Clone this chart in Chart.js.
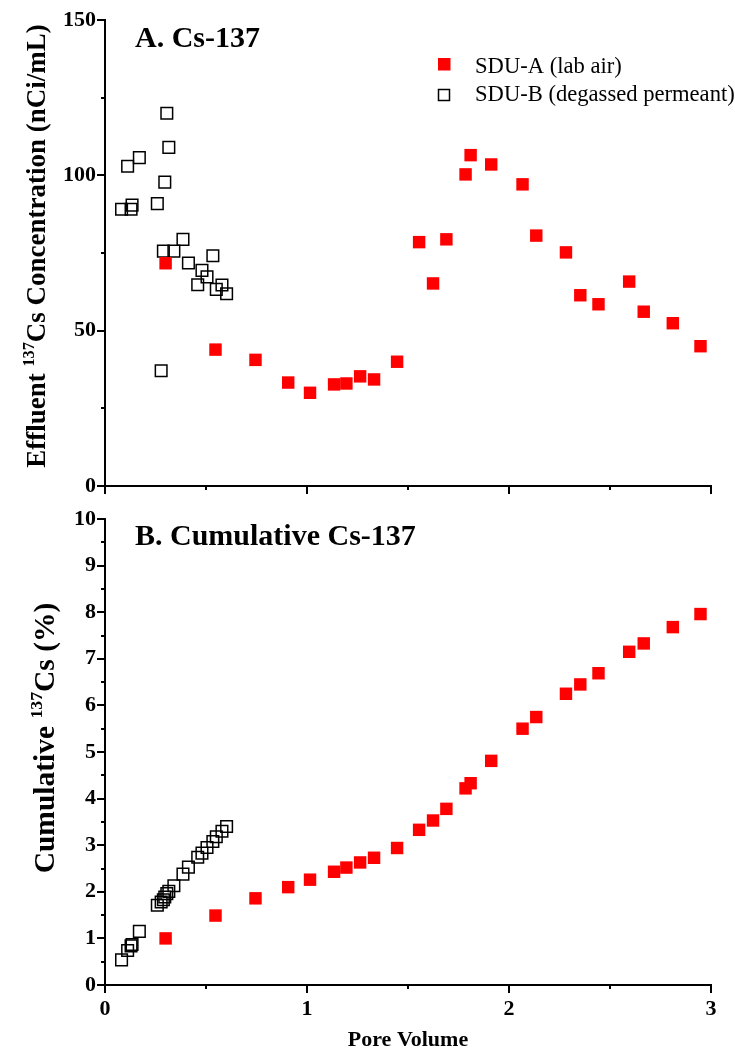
<!DOCTYPE html>
<html><head><meta charset="utf-8">
<script src="https://cdn.jsdelivr.net/npm/chart.js@4.4.0/dist/chart.umd.min.js"></script>
<style>
html,body{margin:0;padding:0;background:#fff;}
#wrap{position:relative;width:735px;height:1054px;overflow:hidden;background:#fff;}
canvas{position:absolute;left:0;}
</style></head><body>
<div id="wrap">
<canvas id="cA" width="735" height="500" style="top:0px"></canvas>
<canvas id="cB" width="735" height="554" style="top:500px"></canvas>
</div>
<script>
// ---- data ----
const pvA   = [0.300, 0.547, 0.745, 0.907, 1.015, 1.134, 1.195, 1.263, 1.332, 1.446, 1.555, 1.624, 1.690, 1.785, 1.810, 1.912, 2.067, 2.135, 2.282, 2.353, 2.443, 2.595, 2.667, 2.811, 2.948];
const concA = [71.7, 43.9, 40.6, 33.3, 30.0, 32.7, 33.0, 35.3, 34.3, 40.0, 78.5, 65.2, 79.4, 100.3, 106.5, 103.5, 97.1, 80.6, 75.2, 61.4, 58.5, 65.8, 56.1, 52.4, 45.0];
const cumA  = [1.00, 1.49, 1.86, 2.10, 2.26, 2.43, 2.52, 2.63, 2.73, 2.94, 3.33, 3.53, 3.78, 4.22, 4.33, 4.81, 5.50, 5.75, 6.25, 6.45, 6.69, 7.15, 7.33, 7.68, 7.96];

const pvB   = [0.082, 0.112, 0.129, 0.134, 0.170, 0.259, 0.278, 0.289, 0.296, 0.306, 0.316, 0.341, 0.386, 0.413, 0.459, 0.480, 0.505, 0.534, 0.551, 0.579, 0.602];
const concB = [89.1, 102.9, 89.1, 90.4, 105.7, 90.9, 37.1, 75.6, 97.8, 120.0, 109.0, 75.6, 79.4, 71.8, 64.8, 69.4, 67.3, 74.1, 63.3, 64.7, 61.9];
const cumB  = [0.54, 0.74, 0.84, 0.87, 1.15, 1.71, 1.78, 1.83, 1.89, 1.96, 2.01, 2.13, 2.38, 2.53, 2.74, 2.83, 2.95, 3.08, 3.18, 3.30, 3.40];

const seriesNames = ['SDU-A (lab air)', 'SDU-B (degassed permeant)'];
const panelTitles = ['A. Cs-137', 'B. Cumulative Cs-137'];
const xTitle = 'Pore Volume';
const yTitleA = [{t:'Effluent '}, {t:'137', sup:true}, {t:'Cs Concentration (nCi/mL)'}];
const yTitleB = [{t:'Cumulative '}, {t:'137', sup:true}, {t:'Cs (%)'}];
const xRange = [0, 3], xMajor = 1, xMinor = 0.5;
const yRangeA = [0, 150], yMajorA = 50, yMinorA = 25;
const yRangeB = [0, 10], yMajorB = 1, yMinorB = 0.5;

const SERIF = '"Liberation Serif", "Times New Roman", serif';

function drawRichVertical(ctx, parts, size, bx, cy) {
  ctx.save();
  ctx.translate(bx, cy);
  ctx.rotate(-Math.PI / 2);
  let total = 0; const ms = [];
  for (const p of parts) {
    const fs = p.sup ? size * 0.6 : size;
    ctx.font = `bold ${fs}px ${SERIF}`;
    const w = ctx.measureText(p.t).width;
    ms.push([fs, w]); total += w;
  }
  let x = -total / 2;
  ctx.fillStyle = '#000'; ctx.textBaseline = 'alphabetic'; ctx.textAlign = 'left';
  parts.forEach((p, i) => {
    ctx.font = `bold ${ms[i][0]}px ${SERIF}`;
    ctx.fillText(p.t, x, p.sup ? -size * 0.42 : 0);
    x += ms[i][1];
  });
  ctx.restore();
}

function tickPlugin(xMaj, xMin, yMaj, yMin) {
  return {
    id: 'ticksOut',
    afterDraw(chart) {
      const ctx = chart.ctx, ca = chart.chartArea;
      const xs = chart.scales.x, ys = chart.scales.y;
      ctx.save();
      ctx.strokeStyle = '#000'; ctx.lineWidth = 2;
      const isMaj = (v, m) => Math.abs(v / m - Math.round(v / m)) < 1e-6;
      for (let v = ys.min; v <= ys.max + 1e-9; v += yMin) {
        const p = Math.round(ys.getPixelForValue(v));
        const len = isMaj(v, yMaj) ? 8 : 4;
        ctx.beginPath(); ctx.moveTo(ca.left - len, p); ctx.lineTo(ca.left, p); ctx.stroke();
      }
      for (let v = xs.min; v <= xs.max + 1e-9; v += xMin) {
        const p = Math.round(xs.getPixelForValue(v));
        const len = isMaj(v, xMaj) ? 8 : 4;
        ctx.beginPath(); ctx.moveTo(p, ca.bottom); ctx.lineTo(p, ca.bottom + len); ctx.stroke();
      }
      ctx.restore();
    }
  };
}

function makeChart(canvasId, cfg) {
  const tickFont = {family: SERIF, size: 22, weight: 'bold'};
  return new Chart(document.getElementById(canvasId), {
    type: 'scatter',
    data: {
      datasets: [
        {label: seriesNames[0], data: pvA.map((x, i) => ({x, y: cfg.yA[i]})),
         pointStyle: 'rect', pointRadius: 8.8, pointHoverRadius: 8.8,
         backgroundColor: '#ff0000', borderColor: '#ff0000', borderWidth: 0},
        {label: seriesNames[1], data: pvB.map((x, i) => ({x, y: cfg.yB[i]})),
         pointStyle: 'rect', pointRadius: 8.2, pointHoverRadius: 8.2,
         backgroundColor: 'rgba(0,0,0,0)', borderColor: '#000', borderWidth: 1.5}
      ]
    },
    options: {
      responsive: false, animation: false, devicePixelRatio: 1, events: [],
      layout: {padding: {left: 0, right: 24, top: cfg.padTop, bottom: 0}},
      plugins: {legend: {display: false}, tooltip: {enabled: false}, title: {display: false}},
      scales: {
        x: {
          type: 'linear', min: xRange[0], max: xRange[1], position: 'bottom',
          ticks: {stepSize: xMajor, display: cfg.showX, font: tickFont, color: '#000', padding: 11, maxRotation: 0, autoSkip: false},
          grid: {display: false, drawTicks: false},
          border: {display: true, color: '#000', width: 2},
          title: {display: cfg.showX, text: xTitle, color: '#000', font: {family: SERIF, size: 22, weight: 'bold'}, padding: {top: 0, bottom: 0}},
          afterFit(s) { s.height = cfg.xHeight; s.paddingLeft = 0; s.paddingRight = 0; }
        },
        y: {
          type: 'linear', min: cfg.yRange[0], max: cfg.yRange[1],
          ticks: {stepSize: cfg.yMajor, font: tickFont, color: '#000', padding: 9, autoSkip: false},
          grid: {display: false, drawTicks: false},
          border: {display: true, color: '#000', width: 2},
          afterFit(s) { s.width = 105; s.paddingTop = 0; s.paddingBottom = 0; }
        }
      }
    },
    plugins: [tickPlugin(xMajor, xMinor, cfg.yMajor, cfg.yMinor), {
      id: 'annot',
      afterDraw(chart) {
        const ctx = chart.ctx;
        ctx.save();
        ctx.fillStyle = '#000';
        ctx.font = `bold 30px ${SERIF}`;
        ctx.textAlign = 'left'; ctx.textBaseline = 'alphabetic';
        ctx.fillText(cfg.title, 135, cfg.titleY);
        ctx.restore();
        drawRichVertical(ctx, cfg.yTitle, cfg.yTitleSize, cfg.yTitleX, cfg.yTitleCY);
        if (cfg.legend) {
          const ds = chart.data.datasets;
          ctx.save();
          ctx.fillStyle = ds[0].backgroundColor;
          ctx.fillRect(438, 58, 12.5, 12.5);
          ctx.strokeStyle = ds[1].borderColor; ctx.lineWidth = 1.5;
          ctx.strokeRect(438.5, 89.5, 11, 11);
          ctx.fillStyle = '#000';
          ctx.font = `22.6px ${SERIF}`;
          ctx.textAlign = 'left'; ctx.textBaseline = 'alphabetic';
          ctx.fillText(ds[0].label, 475, 73);
          ctx.fillText(ds[1].label, 475, 101);
          ctx.restore();
        }
      }
    }]
  });
}

makeChart('cA', {
  yA: concA, yB: concB, yRange: yRangeA, yMajor: yMajorA, yMinor: yMinorA,
  padTop: 20, xHeight: 14, showX: false,
  title: panelTitles[0], titleY: 46.5,
  yTitle: yTitleA, yTitleSize: 27, yTitleX: 45, yTitleCY: 246, legend: true
});
makeChart('cB', {
  yA: cumA, yB: cumB, yRange: yRangeB, yMajor: yMajorB, yMinor: yMinorB,
  padTop: 19, xHeight: 69, showX: true,
  title: panelTitles[1], titleY: 45,
  yTitle: yTitleB, yTitleSize: 29.5, yTitleX: 54, yTitleCY: 238, legend: false
});
</script>
</body></html>
